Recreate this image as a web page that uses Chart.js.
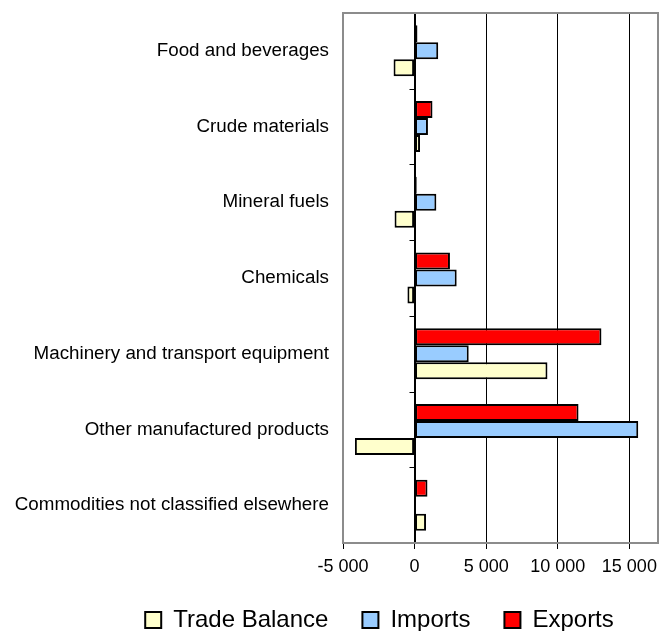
<!DOCTYPE html>
<html>
<head>
<meta charset="utf-8">
<script src="https://cdn.jsdelivr.net/npm/chart.js@4"></script>
<style>
  body { margin: 0; background: #fff; }
</style>
</head>
<body>
<canvas id="myChart" width="662" height="631"></canvas>
<script>
const categories = [
    'Food and beverages',
    'Crude materials',
    'Mineral fuels',
    'Chemicals',
    'Machinery and transport equipment',
    'Other manufactured products',
    'Commodities not classified elsewhere',
];

const exportsData = [200, 1250, 150, 2470, 13050, 11450, 900];
const importsData = [1650, 930, 1520, 2940, 3780, 15620, 100];
const balanceData = [-1470, 380, -1400, -500, 9280, -4170, 800];

const xTicks = [-5000, 0, 5000, 10000, 15000];

const FONT = 'Liberation Sans, Arial, sans-serif';

const fmt = (v) => String(v).replace(/\B(?=(\d{3})+(?!\d))/g, ' ');

// grey frame round the plot area + zero line with its little ticks
const framePlugin = {
    id: 'frame',
    afterLayout(chart) {
        // legend sits a bit right of centre in the original
        chart.legend.left += 44;
        chart.legend.right += 44;
    },
    beforeDatasetsDraw(chart) {
        const {ctx, chartArea: a, scales: {x}} = chart;
        ctx.save();
        const x0 = Math.round(x.getPixelForValue(0)) + 0.5;
        ctx.strokeStyle = '#000';
        ctx.lineWidth = 1;
        ctx.beginPath();
        ctx.moveTo(x0, a.top);
        ctx.lineTo(x0, a.bottom);
        const step = (a.bottom - a.top) / categories.length;
        for (let i = 0; i < categories.length; i++) {
            const yy = Math.round(a.top + i * step) + 0.5;
            ctx.moveTo(x0 - 6, yy);
            ctx.lineTo(x0, yy);
        }
        ctx.stroke();
        ctx.strokeStyle = '#8c8c8c';
        ctx.lineWidth = 2;
        ctx.strokeRect(a.left, a.top, a.right - a.left, a.bottom - a.top);
        ctx.restore();
    }
};

const data = {
    labels: categories,
    datasets: [{
        label: 'Exports',
        data: exportsData,
        backgroundColor: '#ff0000',
    }, {
        label: 'Imports',
        data: importsData,
        backgroundColor: '#99ccff',
    }, {
        label: 'Trade Balance',
        data: balanceData,
        backgroundColor: '#ffffcc',
    }]
};

const config = {
    type: 'bar',
    data: data,
    plugins: [framePlugin],
    options: {
        indexAxis: 'y',
        responsive: false,
        animation: false,
        layout: {
            padding: {left: 13, right: 4, top: 13, bottom: 0}
        },
        datasets: {
            bar: {
                borderColor: '#000',
                borderWidth: 2,
                borderSkipped: false,
                categoryPercentage: 0.674,
                barPercentage: 1,
            }
        },
        scales: {
            x: {
                min: -5000,
                max: 17000,
                afterBuildTicks: (scale) => {
                    scale.ticks = xTicks.map(v => ({value: v}));
                },
                afterFit: (scale) => {
                    scale.height = 31;
                    scale.paddingLeft = 0;
                    scale.paddingRight = 0;
                },
                grid: {
                    color: '#000',
                    lineWidth: 1,
                    tickLength: 6,
                },
                border: {display: false},
                ticks: {
                    color: '#000',
                    padding: 7,
                    maxRotation: 0,
                    font: {family: FONT, size: 18},
                    callback: (v) => fmt(v),
                }
            },
            y: {
                afterFit: (scale) => {
                    scale.width = 330;
                    scale.paddingTop = 0;
                    scale.paddingBottom = 0;
                },
                grid: {display: false, drawTicks: false},
                border: {display: false},
                ticks: {
                    color: '#000',
                    padding: 14,
                    font: {family: FONT, size: 18.8},
                }
            }
        },
        plugins: {
            legend: {
                position: 'bottom',
                reverse: true,
                maxHeight: 57,
                labels: {
                    color: '#000',
                    boxWidth: 16,
                    boxHeight: 16,
                    padding: 34,
                    font: {family: FONT, size: 24},
                }
            },
            tooltip: {enabled: false},
            title: {display: false}
        }
    },
};

const myChart = new Chart(
    document.getElementById('myChart'),
    config
);
</script>
</body>
</html>
